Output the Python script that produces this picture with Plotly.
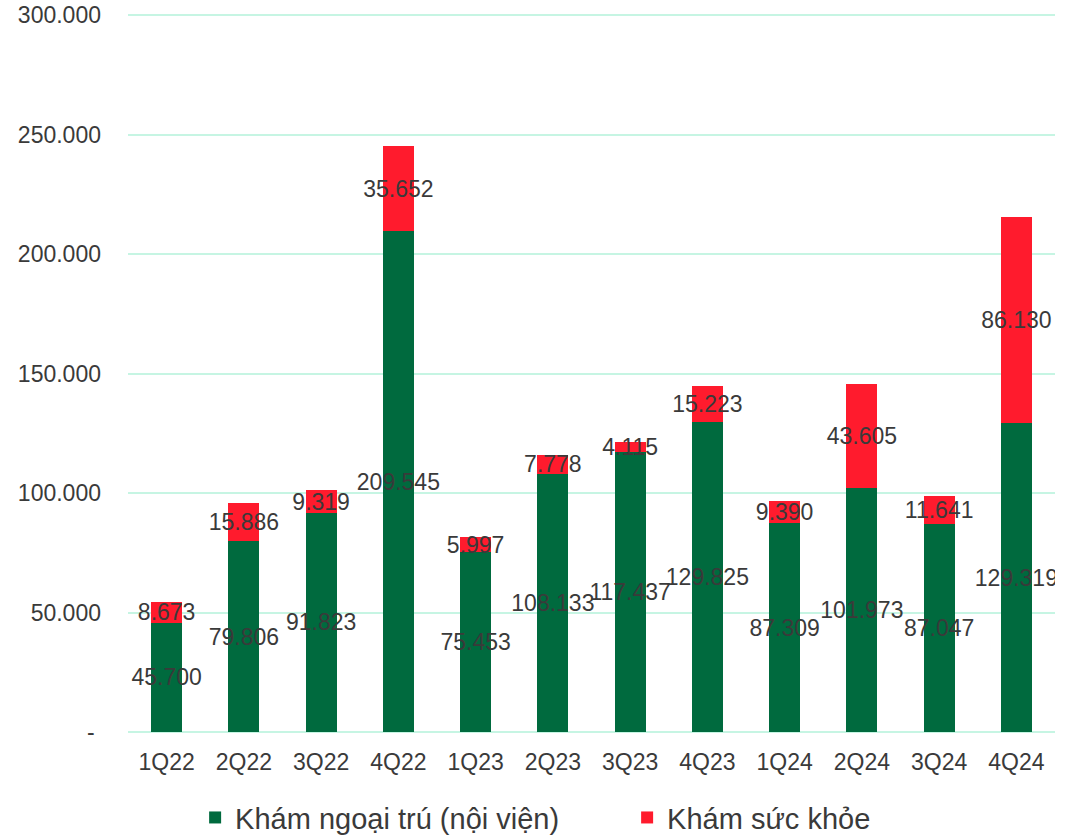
import plotly.graph_objects as go

categories = ["1Q22", "2Q22", "3Q22", "4Q22", "1Q23", "2Q23", "3Q23", "4Q23",
              "1Q24", "2Q24", "3Q24", "4Q24"]
kham_ngoai_tru = [45700, 79806, 91823, 209545, 75453, 108133, 117437, 129825,
                  87309, 101973, 87047, 129319]
kham_suc_khoe = [8673, 15886, 9319, 35652, 5997, 7778, 4115, 15223,
                 9390, 43605, 11641, 86130]
y_tick_vals = [0, 50000, 100000, 150000, 200000, 250000, 300000]
y_tick_text = ["-\u00a0", "50.000", "100.000", "150.000", "200.000", "250.000", "300.000"]

def fmt(v):
    return f"{v:,}".replace(",", ".")

FONT = "Liberation Sans"
TXT = "#3a3a3a"

fig = go.Figure()
for name, vals, color in [("Khám ngoại trú (nội viện)", kham_ngoai_tru, "#006A3E"),
                          ("Khám sức khỏe", kham_suc_khoe, "#FF1B2D")]:
    fig.add_trace(go.Bar(
        x=categories, y=vals, name=name,
        marker=dict(color=color, line=dict(width=0)),
        text=[fmt(v) for v in vals],
        textposition="inside", insidetextanchor="middle",
        constraintext="none", textangle=0,
        insidetextfont=dict(family=FONT, size=23, color=TXT),
        hoverinfo="skip",
    ))

fig.update_layout(
    barmode="stack", bargap=0.6,
    width=1084, height=836,
    margin=dict(l=128, r=29, t=14, b=104, autoexpand=False),
    plot_bgcolor="white", paper_bgcolor="white",
    font=dict(family=FONT, size=23, color=TXT),
    showlegend=True,
    legend=dict(orientation="h", xref="container", x=0.18, xanchor="left",
                yref="container", y=0.022, yanchor="middle",
                font=dict(family=FONT, size=29, color=TXT),
                itemwidth=30, entrywidth=387, entrywidthmode="pixels",
                traceorder="normal"),
)
fig.update_yaxes(range=[0, 300600], tickvals=y_tick_vals, ticktext=y_tick_text,
                 showgrid=True, gridcolor="#C6F5E3", gridwidth=1.5,
                 zeroline=True, zerolinecolor="#C6F5E3", zerolinewidth=1.5,
                 showline=False, ticks="", ticklabelstandoff=26,
                 ticklabeloverflow="allow",
                 tickfont=dict(family=FONT, size=23, color=TXT))
fig.update_xaxes(showgrid=False, showline=False, ticks="", ticklabelstandoff=14,
                 tickfont=dict(family=FONT, size=23, color=TXT))

fig.write_html("out.html", config={"displayModeBar": False},
               post_script="document.body.style.margin='0';")
